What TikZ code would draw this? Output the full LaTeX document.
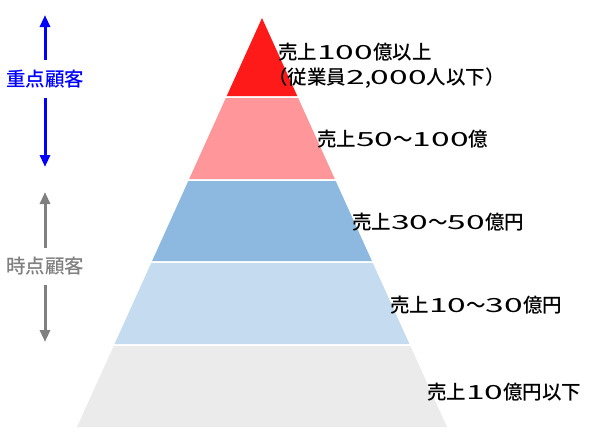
\documentclass[tikz,border=0pt]{standalone}
\usepackage{fontspec}
\setmainfont{Noto Sans CJK JP}[UprightFont={* Medium}]
\newfontfamily\digf{Noto Sans CJK JP}[FakeStretch=1.72]
\newcommand\dg[1]{{\digf #1}}
\usetikzlibrary{arrows.meta}
\definecolor{layA}{RGB}{255,26,26}
\definecolor{layB}{RGB}{255,150,153}
\definecolor{layC}{RGB}{141,185,224}
\definecolor{layD}{RGB}{197,219,239}
\definecolor{layE}{RGB}{235,235,235}
\definecolor{keyblue}{RGB}{0,0,255}
\definecolor{keygray}{RGB}{128,128,128}
\tikzset{
  lbl/.style={anchor=west, inner sep=0pt, text=black, font=\fontsize{19.5}{25}\selectfont},
  sidelbl/.style={inner sep=0pt, font=\fontsize{19.5}{22}\selectfont, text=#1},
  sidearrow/.style={draw=#1, line width=3pt, -{Triangle[width=10pt,length=12pt]}},
}
\begin{document}
\begin{tikzpicture}[x=1pt,y=-1pt]
\useasboundingbox (0,0) rectangle (600,440);
% pyramid layers
\foreach \t/\b/\c in {18/96/layA, 98/179/layB, 181/261/layC, 263/344/layD, 346/427/layE}{
  \fill[\c] ({262-0.4523*(\t-18)},\t) -- ({262+0.4523*(\t-18)},\t)
     -- ({262+0.4523*(\b-18)},\b) -- ({262-0.4523*(\b-18)},\b) -- cycle;
}
% layer labels
\node[lbl, align=left] (l1) at (278,65.5) {売上\dg{100}億以上\\\hspace*{-0.5em}（従業員\dg{2},\dg{000}人以下）};
\node[lbl] (l2) at (317,139) {売上\dg{50}～\dg{100}億};
\node[lbl] (l3) at (352,222) {売上\dg{30}～\dg{50}億円};
\node[lbl] (l4) at (390,305) {売上\dg{10}～\dg{30}億円};
\node[lbl] (l5) at (427,392) {売上\dg{10}億円以下};
% side labels and arrows
\node[sidelbl=keyblue, minimum height=38pt] (k1) at (45,79) {重点顧客};
\coordinate (k1top) at (45,15);
\coordinate (k1bot) at (45,167);
\draw[sidearrow=keyblue] (k1.north) -- (k1top);
\draw[sidearrow=keyblue] (k1.south) -- (k1bot);
\node[sidelbl=keygray, minimum height=37pt] (k2) at (45,266.5) {時点顧客};
\coordinate (k2top) at (45,192);
\coordinate (k2bot) at (45,342);
\draw[sidearrow=keygray] (k2.north) -- (k2top);
\draw[sidearrow=keygray] (k2.south) -- (k2bot);
\end{tikzpicture}
\end{document}
